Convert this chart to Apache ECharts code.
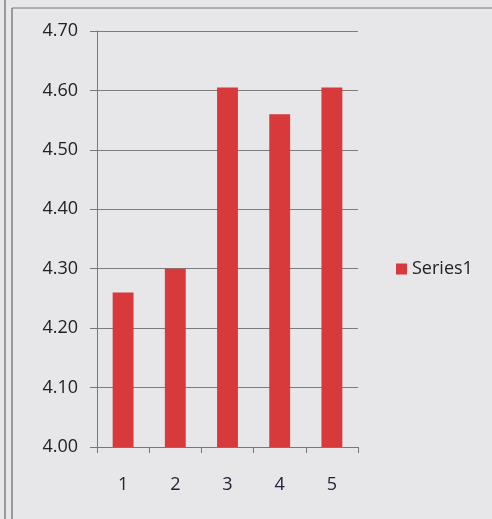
<!DOCTYPE html>
<html>
<head>
<meta charset="utf-8">
<script src="https://cdn.jsdelivr.net/npm/echarts@6/dist/echarts.min.js"></script>
<style>
  html, body { margin: 0; padding: 0; background: #e7e7ea; }
  #chart { width: 492px; height: 519px; }
</style>
</head>
<body>
<div id="chart"></div>
<script>
// data
const categories = ['1', '2', '3', '4', '5'];
const series1 = [4.26, 4.30, 4.605, 4.56, 4.605];
const yMin = 4.0;
const yMax = 4.7;
const yStep = 0.1;

const dom = document.getElementById('chart');
const myChart = echarts.init(dom);

const option = {
    backgroundColor: '#e7e7ea',
    textStyle: { fontFamily: 'Open Sans' },
    // printed frame around the chart
    graphic: [
        { type: 'line', shape: { x1: 5, y1: 0, x2: 5, y2: 519 }, style: { stroke: '#666', lineWidth: 1.2 } },
        { type: 'line', shape: { x1: 12, y1: 8, x2: 12, y2: 519 }, style: { stroke: '#666', lineWidth: 1.2 } },
        { type: 'line', shape: { x1: 12, y1: 8, x2: 492, y2: 8 }, style: { stroke: '#777', lineWidth: 1 } }
    ],
    legend: {
        data: ['Series1'],
        orient: 'vertical',
        left: 391,
        top: 255,
        icon: 'rect',
        itemWidth: 11,
        itemHeight: 11,
        itemGap: 6,
        textStyle: { color: '#222', fontSize: 18, fontWeight: 500, fontFamily: 'Open Sans' }
    },
    grid: {
        left: 97,
        top: 31,
        width: 261,
        height: 416
    },
    xAxis: {
        type: 'category',
        data: categories,
        axisLine: { lineStyle: { color: '#777', width: 1 } },
        axisTick: { show: true, length: 6, lineStyle: { color: '#777' } },
        axisLabel: { color: '#22223a', fontSize: 18, fontWeight: 500, margin: 29 },
        splitLine: { show: false }
    },
    yAxis: {
        type: 'value',
        min: yMin,
        max: yMax,
        interval: yStep,
        axisLine: { show: true, lineStyle: { color: '#777', width: 1 } },
        axisTick: { show: true, length: 7, lineStyle: { color: '#777' } },
        axisLabel: {
            color: '#222',
            fontSize: 18,
            fontWeight: 500,
            margin: 19,
            formatter: function (v) { return v.toFixed(2); }
        },
        splitLine: { lineStyle: { color: '#7d7d7d', width: 1 } }
    },
    series: [{
        name: 'Series1',
        type: 'bar',
        data: series1,
        barWidth: '40%',
        itemStyle: { color: '#d8393a' }
    }]
};

myChart.setOption(option, true);
window.addEventListener('resize', function () { myChart.resize(); });
</script>
</body>
</html>
